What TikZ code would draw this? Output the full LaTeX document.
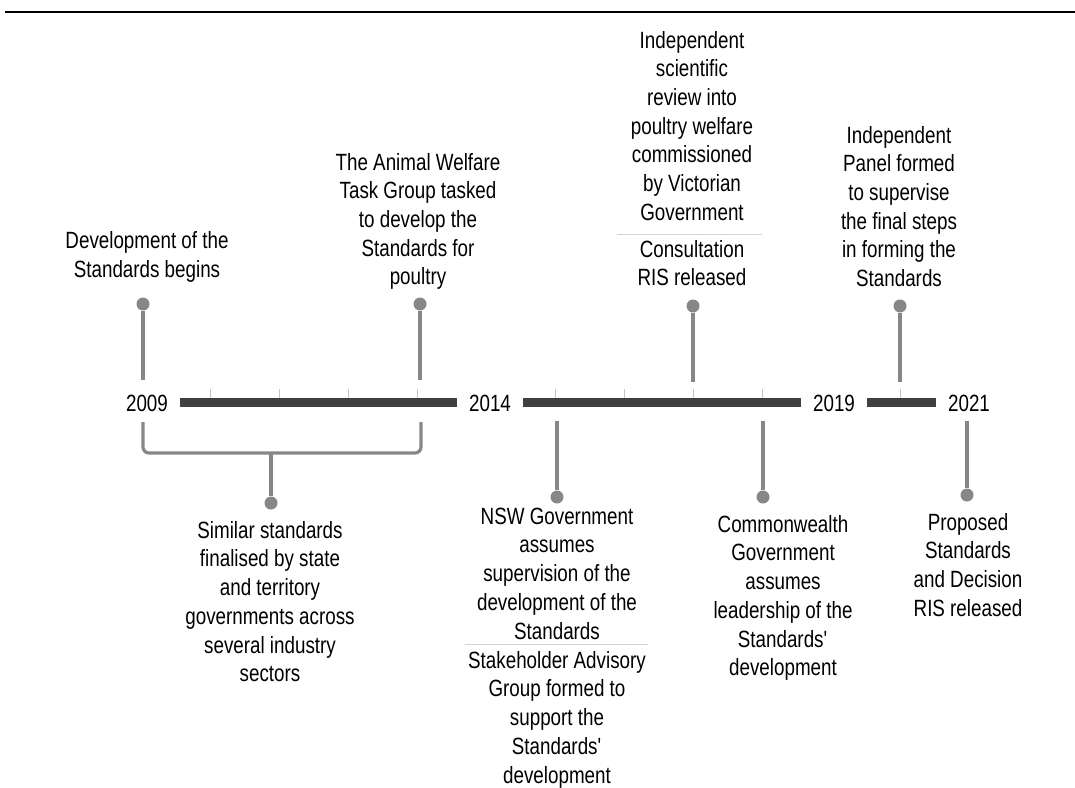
\documentclass[tikz,border=0pt]{standalone}
\usepackage{fontspec}
\setmainfont{Liberation Sans}[FakeStretch=0.8]
\usepackage{xcolor}
\definecolor{bargray}{HTML}{404040}
\definecolor{stemgray}{HTML}{878787}
\definecolor{tickgray}{HTML}{C4C4C4}
\definecolor{rulegray}{HTML}{D4D4D4}

\begin{document}
\begin{tikzpicture}[x=1pt, y=-1pt,
  txt/.style={font=\fontsize{23.5}{28.7}\selectfont, align=center, inner sep=0pt, anchor=north},
  yr/.style={font=\fontsize{23.5}{28.7}\selectfont, inner ysep=0pt, inner xsep=11.5pt, anchor=base},
  dot/.style={circle, fill=stemgray, inner sep=0pt, minimum size=13pt},
  stem/.style={stemgray, line width=3.2pt},
  bar/.style={bargray, line width=9pt},
  tick/.style={tickgray, line width=0.8pt},
  sep/.style={rulegray, line width=1pt}]
\useasboundingbox (0,0) rectangle (1075,787);
\draw [line width=2.5pt] (5,12) -- (1075,12);

\node (y09) at (147,411) [yr] {2009};
\node (y14) at (490,411) [yr] {2014};
\node (y19) at (834,411) [yr] {2019};
\node (y21) at (969,411) [yr] {2021};

\draw [tick] (210,389) -- (210,398) (279,389) -- (279,398) (348,389) -- (348,398)
  (417,389) -- (417,398) (555,389) -- (555,398) (624,389) -- (624,398)
  (693,389) -- (693,398) (762,389) -- (762,398) (900,389) -- (900,398);
\draw [bar] (y09.east) -- (y14.west);
\draw [bar] (y14.east) -- (y19.west);
\draw [bar] (y19.east) -- (y21.west);

% above the line
\node (dev) at (147,228.4) [txt] {\strut Development of the\\Standards begins};
\node (awtg) at (418,149.9) [txt] {\strut The Animal Welfare\\Task Group tasked\\to develop the\\Standards for\\poultry};
\node (rev) at (692,27.9) [txt] {\strut Independent\\scientific\\review into\\poultry welfare\\commissioned\\by Victorian\\Government};
\node (cris) at (692,236.9) [txt] {\strut Consultation\\RIS released};
\node (panel) at (899,122.9) [txt] {\strut Independent\\Panel formed\\to supervise\\the final steps\\in forming the\\Standards};
\coordinate (revl) at (617,234);
\coordinate (revr) at (762,234);
\draw [sep] (revl) -- (revr);

\node (devd) at (143,304) [dot] {};
\node (awtgd) at (420,304) [dot] {};
\node (crisd) at (693,306) [dot] {};
\node (paneld) at (900,306) [dot] {};
\coordinate (devt) at (143,380);
\coordinate (awtgt) at (420,380);
\coordinate (crist) at (693,382);
\coordinate (panelt) at (900,382);
\draw [stem] (devd) -- (devt);
\draw [stem] (awtgd) -- (awtgt);
\draw [stem] (crisd) -- (crist);
\draw [stem] (paneld) -- (panelt);

% below the line
\coordinate (bl) at (143,422);
\coordinate (br) at (421,422);
\coordinate (bm) at (271,453);
\draw [stem, rounded corners=6pt] (bl) -- ++(0,31) -| (br);
\node (simd) at (271,503) [dot] {};
\draw [stem] (bm) -- (simd);

\node (nswd) at (557,497) [dot] {};
\node (cwd) at (763,497) [dot] {};
\node (propd) at (967,495) [dot] {};
\coordinate (nswt) at (557,421);
\coordinate (cwt) at (763,421);
\coordinate (propt) at (967,421);
\draw [stem] (nswt) -- (nswd);
\draw [stem] (cwt) -- (cwd);
\draw [stem] (propt) -- (propd);

\node (sim) at (270,517.9) [txt] {\strut Similar standards\\finalised by state\\and territory\\governments across\\several industry\\sectors};
\node (nsw) at (557,503.9) [txt] {\strut NSW Government\\assumes\\supervision of the\\development of the\\Standards};
\node (sag) at (557,647.9) [txt] {\strut Stakeholder Advisory\\Group formed to\\support the\\Standards\textquotesingle\\development};
\coordinate (nswl) at (465,644);
\coordinate (nswr) at (648,644);
\draw [sep] (nswl) -- (nswr);
\node (cw) at (783,511.9) [txt] {\strut Commonwealth\\Government\\assumes\\leadership of the\\Standards\textquotesingle\\development};
\node (prop) at (968,509.9) [txt] {\strut Proposed\\Standards\\and Decision\\RIS released};
\end{tikzpicture}
\end{document}
